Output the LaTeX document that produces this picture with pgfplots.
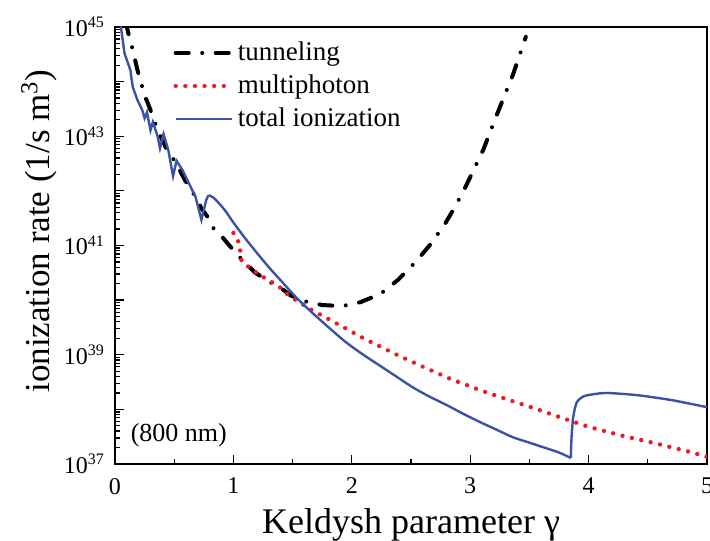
\documentclass[border=0pt]{standalone}
\usepackage{fontspec}
\setmainfont{Liberation Serif}
\usepackage{pgfplots}
\pgfplotsset{compat=1.18}
\definecolor{tblue}{RGB}{58,83,164}
\definecolor{tred}{RGB}{236,28,36}
\begin{document}
\begin{tikzpicture}
\begin{axis}[
  scale only axis, width=296pt, height=218.5pt,
  xmin=0, xmax=5, ymode=log, ymin=1e37, ymax=1e45,
  axis line style={line width=0.7pt},
  every tick/.style={black, line width=0.65pt},
  tick align=inside, xtick pos=bottom, ytick pos=left,
  major tick length=4.5pt, minor tick length=2.5pt,
  xtick={0,1,2,3,4,5}, minor xtick={0.5,1.5,2.5,3.5,4.5},
  ytick={1e37,1e38,1e39,1e40,1e41,1e42,1e43,1e44,1e45},
  yticklabels={10\textsuperscript{37},,10\textsuperscript{39},,10\textsuperscript{41},,10\textsuperscript{43},,10\textsuperscript{45}},
  minor ytick={2e37,3e37,4e37,5e37,6e37,7e37,8e37,9e37,
               2e38,3e38,4e38,5e38,6e38,7e38,8e38,9e38,
               2e39,3e39,4e39,5e39,6e39,7e39,8e39,9e39,
               2e40,3e40,4e40,5e40,6e40,7e40,8e40,9e40,
               2e41,3e41,4e41,5e41,6e41,7e41,8e41,9e41,
               2e42,3e42,4e42,5e42,6e42,7e42,8e42,9e42,
               2e43,3e43,4e43,5e43,6e43,7e43,8e43,9e43,
               2e44,3e44,4e44,5e44,6e44,7e44,8e44,9e44},
  /pgf/number format/assume math mode=true,
  ticklabel style={font=\rmfamily\fontsize{12}{14}\selectfont},
  xticklabel style={yshift=-3.5pt},
  yticklabel style={xshift=-1.5pt},
  xlabel={Keldysh parameter γ},
  ylabel={ionization rate (1/s m\textsuperscript{3})},
  xlabel style={font=\rmfamily\fontsize{18}{20}\selectfont, at={(axis description cs:0.5,-0.14)}, anchor=center},
  ylabel style={font=\rmfamily\fontsize{17.5}{20}\selectfont, at={(axis description cs:-0.128,0.533)}, anchor=center},
  legend image code/.code={\draw[#1] (0pt,0pt) -- (28pt,0pt);},
  legend style={at={(rel axis cs:0.088,0.985)}, anchor=north west, draw=none, fill=none,
    font=\rmfamily\fontsize{13.5}{15}\selectfont, row sep=1.7pt, cells={anchor=west}},
]
\addplot[black, line width=2pt, line cap=round, dash pattern=on 6.5pt off 6.75pt on 0.01pt off 6.75pt] coordinates {
(0.09,1.259e45) (0.11,8.128e44) (0.15,3.802e44) (0.19,1.622e44) (0.25,5.623e43)
(0.30,3.02e43) (0.36,1.288e43) (0.44,5.623e42) (0.51,3.388e42) (0.59,1.585e42)
(0.68,7.762e41) (0.73,4.786e41) (0.79,3.162e41) (0.84,1.905e41) (0.90,1.479e41)
(0.97,9.772e40) (1.06,5.888e40) (1.18,3.236e40) (1.29,2.239e40) (1.39,1.738e40)
(1.48,1.23e40) (1.60,9.55e39) (1.75,8.128e39) (1.92,7.762e39) (2.07,9.12e39)
(2.24,1.288e40) (2.39,2.344e40) (2.54,5.012e40) (2.66,1.023e41) (2.78,2.344e41)
(2.87,5.012e41) (2.96,1.175e42) (3.11,5.623e42) (3.23,2.63e43) (3.36,1.318e44)
(3.47,6.607e44)
};
\addlegendentry{tunneling}
\addplot[tred, line width=2.2pt, line cap=round, dash pattern=on 0.01pt off 4.8pt] coordinates {
(1.00,1.698e41) (1.05,1.096e41) (1.06,7.244e40) (1.07,5.012e40) (1.14,3.89e40)
(1.22,2.884e40) (1.31,2.239e40) (1.39,1.738e40) (1.47,1.202e40) (1.55,9.333e39)
(1.63,7.244e39) (1.71,5.754e39) (1.79,4.677e39) (1.88,3.631e39) (1.95,3.02e39)
(2.10,1.995e39) (2.35,1.072e39) (2.59,6.166e38) (2.82,3.715e38) (3.06,2.344e38)
(3.30,1.549e38) (3.54,1.047e38) (3.78,6.918e37) (4.00,4.786e37) (4.28,3.311e37)
(4.56,2.399e37) (4.84,1.698e37) (5.00,1.349e37)
};
\addlegendentry{multiphoton}
\addplot[tblue, line width=1.2pt] coordinates {
(0.04,1.585e45) (0.05,1e45) (0.08,3.311e44) (0.13,1.622e44) (0.15,7.943e43)
(0.19,4.571e43) (0.23,3.02e43) (0.25,2.138e43) (0.27,2.754e43) (0.30,1.288e43)
(0.32,1.82e43) (0.36,1.0e43) (0.38,6.026e42) (0.41,1.096e43) (0.45,5.623e42)
(0.49,1.862e42) (0.52,3.548e42) (0.57,2.399e42) (0.68,7.762e41) (0.73,2.951e41)
(0.77,6.761e41) (0.79,8.318e41)
};
\addlegendentry{total ionization}
\addplot[tblue, line width=1.2pt, smooth, tension=0.5, forget plot] coordinates {
(0.79,8.318e41) (0.83,7.586e41) (0.90,5.248e41) (0.95,3.802e41) (1.00,2.63e41)
(1.10,1.349e41) (1.20,7.244e40) (1.30,3.981e40) (1.40,2.291e40) (1.53,1.122e40)
(1.67,5.754e39) (1.81,3.09e39) (1.95,1.698e39) (2.09,1.023e39) (2.23,6.457e38)
(2.37,4.074e38) (2.51,2.57e38) (2.65,1.738e38) (2.80,1.202e38) (2.94,8.318e37)
(3.08,5.888e37) (3.22,4.266e37) (3.36,3.09e37) (3.50,2.455e37) (3.64,1.95e37)
(3.75,1.622e37) (3.85,1.288e37)
};
\addplot[tblue, line width=1.2pt, smooth, tension=0.4, forget plot] coordinates {
(3.85,1.288e37) (3.855,2.818e37) (3.87,7.244e37) (3.90,1.349e38) (3.96,1.738e38)
(4.05,1.905e38) (4.16,1.995e38) (4.41,1.82e38) (4.70,1.479e38) (5.00,1.096e38)
};
\node[anchor=west, font=\rmfamily\fontsize{13}{15}\selectfont, inner sep=0pt] at (axis cs:0.13,3.39e37) {(800 nm)};
\end{axis}
\pgfresetboundingbox
\useasboundingbox ([shift={(-57.5pt,-38pt)}]current axis.south west) rectangle ([shift={(1.5pt,13.5pt)}]current axis.north east);
\end{tikzpicture}
\end{document}
